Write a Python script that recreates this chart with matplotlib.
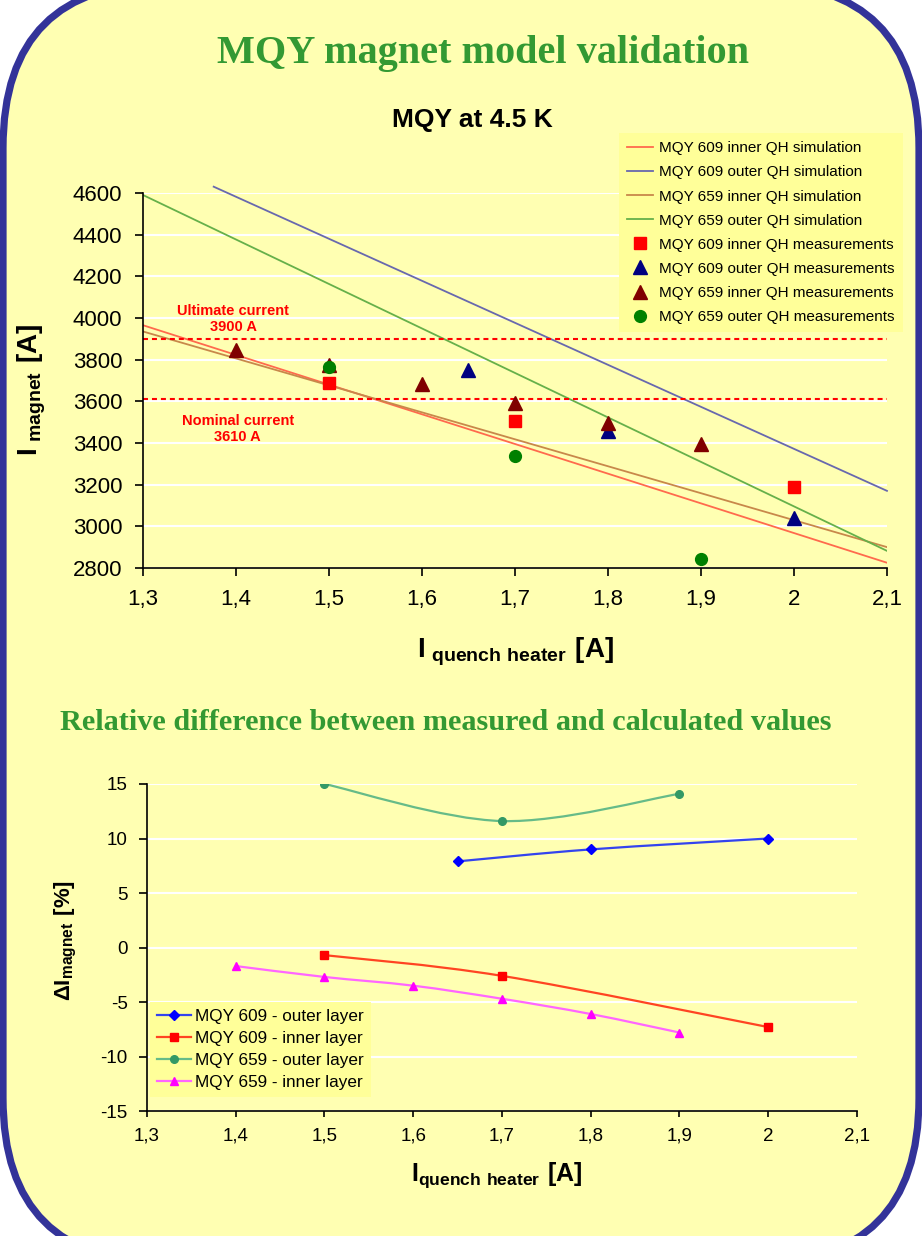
import matplotlib.pyplot as plt
import numpy as np
from matplotlib.patches import FancyBboxPatch, PathPatch
from matplotlib.path import Path
from matplotlib.lines import Line2D
from matplotlib.transforms import IdentityTransform

plt.rcParams['font.family'] = ['Liberation Sans', 'DejaVu Sans']
plt.rcParams['mathtext.fontset'] = 'custom'
plt.rcParams['mathtext.rm'] = 'Liberation Sans'
plt.rcParams['mathtext.bf'] = 'Liberation Sans:bold'
plt.rcParams['axes.unicode_minus'] = False

BG = '#FFFFB2'
LEG_BG = '#FFFF99'
GREEN_TITLE = '#339933'

# ---- top chart: simulations (straight lines) ----
sim_x = [1.3, 2.1]
sim_609_inner = [3965, 2825]
sim_609_outer_x = [1.376, 2.1]
sim_609_outer = [4630, 3170]
sim_659_inner = [3935, 2900]
sim_659_outer = [4590, 2882]

# ---- top chart: measurements ----
meas_609_inner_x = [1.5, 1.7, 2.0]
meas_609_inner = [3690, 3505, 3190]
meas_609_outer_x = [1.65, 1.8, 2.0]
meas_609_outer = [3750, 3458, 3040]
meas_659_inner_x = [1.4, 1.5, 1.6, 1.7, 1.8, 1.9]
meas_659_inner = [3845, 3775, 3683, 3592, 3495, 3395]
meas_659_outer_x = [1.5, 1.7, 1.9]
meas_659_outer = [3765, 3338, 2845]

ultimate_current = 3900
nominal_current = 3610

x_ticks = [1.3, 1.4, 1.5, 1.6, 1.7, 1.8, 1.9, 2.0, 2.1]
x_labels = ['1,3', '1,4', '1,5', '1,6', '1,7', '1,8', '1,9', '2', '2,1']
top_y_ticks = [2800, 3000, 3200, 3400, 3600, 3800, 4000, 4200, 4400, 4600]

# ---- bottom chart: relative difference [%] ----
d609_outer_x = [1.65, 1.8, 2.0]
d609_outer = [7.9, 9.0, 10.0]
d609_inner_x = [1.5, 1.7, 2.0]
d609_inner = [-0.7, -2.6, -7.3]
d659_outer_x = [1.5, 1.7, 1.9]
d659_outer = [15.0, 11.6, 14.1]
d659_inner_x = [1.4, 1.5, 1.6, 1.7, 1.8, 1.9]
d659_inner = [-1.7, -2.7, -3.5, -4.7, -6.1, -7.8]
bottom_y_ticks = [-15, -10, -5, 0, 5, 10, 15]


def smooth_path(x, y):
    # excel-like smoothed line (catmull-rom as cubic bezier)
    pts = np.column_stack([x, y]).astype(float)
    n = len(pts)
    verts = [pts[0]]
    codes = [Path.MOVETO]
    for i in range(n - 1):
        p0 = pts[max(i - 1, 0)]
        p1 = pts[i]
        p2 = pts[i + 1]
        p3 = pts[min(i + 2, n - 1)]
        verts += [p1 + (p2 - p0) / 6, p2 - (p3 - p1) / 6, p2]
        codes += [Path.CURVE4] * 3
    return Path(verts, codes)


def style_axes(ax, yticks, tick_size, pad):
    ax.set_facecolor(BG)
    for s in ['top', 'right']:
        ax.spines[s].set_visible(False)
    ax.spines['left'].set_linewidth(1.2)
    ax.spines['bottom'].set_linewidth(1.2)
    ax.set_xlim(1.3, 2.1)
    ax.set_xticks(x_ticks)
    ax.set_xticklabels(x_labels)
    ax.set_yticks(yticks)
    ax.set_ylim(yticks[0], yticks[-1])
    ax.yaxis.grid(True, color='white', linewidth=1.5)
    ax.set_axisbelow(True)
    ax.tick_params(axis='both', direction='out', length=6, width=1.2,
                   labelsize=tick_size, pad=pad)


fig = plt.figure(figsize=(9.22, 12.36), dpi=100, facecolor='white')

frame = FancyBboxPatch((3, -27), 916, 1280,
                       boxstyle='round,pad=0,rounding_size=165',
                       transform=IdentityTransform(), facecolor=BG,
                       edgecolor='#333399', linewidth=5.2, zorder=-10)
fig.add_artist(frame)

fig.text(0.524, 0.949, 'MQY magnet model validation', ha='center', va='baseline',
         fontsize=29, fontweight='bold', color=GREEN_TITLE, family='Liberation Serif')
fig.text(0.512, 0.8973, 'MQY at 4.5 K', ha='center', va='baseline',
         fontsize=19, fontweight='bold')

# ---------------- top chart ----------------
ax1 = fig.add_axes([0.1551, 0.5405, 0.8069, 0.3034])
style_axes(ax1, top_y_ticks, 16, 9)

ax1.plot(sim_x, sim_609_inner, color='#FF6A4D', lw=1.3, label='MQY 609 inner QH simulation')
ax1.plot(sim_609_outer_x, sim_609_outer, color='#6868AE', lw=1.3, clip_on=False,
         label='MQY 609 outer QH simulation')
ax1.plot(sim_x, sim_659_inner, color='#C8884A', lw=1.3, label='MQY 659 inner QH simulation')
ax1.plot(sim_x, sim_659_outer, color='#66B04A', lw=1.3, label='MQY 659 outer QH simulation')

ax1.axhline(ultimate_current, color='#FF0000', lw=1.5, linestyle=(0, (2.4, 1.9)))
ax1.axhline(nominal_current, color='#FF0000', lw=1.5, linestyle=(0, (2.4, 1.9)))

ax1.plot(meas_609_inner_x, meas_609_inner, 's', color='#FF0000', ms=8.5,
         label='MQY 609 inner QH measurements')
ax1.plot(meas_609_outer_x, meas_609_outer, '^', color='#000080', ms=9.5,
         label='MQY 609 outer QH measurements')
ax1.plot(meas_659_inner_x, meas_659_inner, '^', color='#800000', ms=9.5,
         label='MQY 659 inner QH measurements')
ax1.plot(meas_659_outer_x, meas_659_outer, 'o', color='#008000', ms=8.5,
         label='MQY 659 outer QH measurements')

ax1.text(1.397, 3995, 'Ultimate current\n3900 A', ha='center', va='center',
         color='#FF0000', fontsize=10.5, fontweight='bold', linespacing=1.2)
ax1.text(1.402, 3465, 'Nominal current\n3610 A', ha='center', va='center',
         color='#FF0000', fontsize=10.5, fontweight='bold', linespacing=1.2)

leg1 = ax1.legend(loc='upper right', bbox_to_anchor=(903 / 922, 1 - 133 / 1236),
                  bbox_transform=fig.transFigure, borderaxespad=0, fontsize=11,
                  numpoints=1, handlelength=1.7, handletextpad=0.4,
                  labelspacing=0.66, borderpad=0.55, fancybox=False,
                  frameon=True, framealpha=1)
leg1.get_frame().set_facecolor(LEG_BG)
leg1.get_frame().set_edgecolor('none')

fig.text(32 / 922, 1 - 390 / 1236, r'$\mathbf{I}_{\mathbf{\ magnet}}\ \mathbf{[A]}$',
         rotation=90, ha='center', va='center', fontsize=20)
fig.text(515 / 922, 1 - 652 / 1236, r'$\mathbf{I}_{\mathbf{\ quench\ heater}}\ \mathbf{[A]}$',
         ha='center', va='center', fontsize=20)

# ---------------- bottom chart ----------------
fig.text(446 / 922, 0.4094, 'Relative difference between measured and calculated values',
         ha='center', va='baseline', fontsize=21.8, fontweight='bold',
         color=GREEN_TITLE, family='Liberation Serif')

ax2 = fig.add_axes([0.1594, 0.1011, 0.7701, 0.2646])
style_axes(ax2, bottom_y_ticks, 13.5, 8)
ax2.tick_params(axis='x', length=4)

series = [
    (d609_outer_x, d609_outer, '#3344EE', '#0000FF', 'D', 5, 'MQY 609 - outer layer'),
    (d609_inner_x, d609_inner, '#FF4422', '#FF0000', 's', 5.5, 'MQY 609 - inner layer'),
    (d659_outer_x, d659_outer, '#66BB88', '#339966', 'o', 5.5, 'MQY 659 - outer layer'),
    (d659_inner_x, d659_inner, '#FF66FF', '#FF00FF', '^', 6, 'MQY 659 - inner layer'),
]
handles = []
for xs, ys, lc, mc, mk, ms, lab in series:
    ax2.add_patch(PathPatch(smooth_path(xs, ys), facecolor='none', edgecolor=lc, lw=1.6))
    ax2.plot(xs, ys, linestyle='none', marker=mk, color=mc, ms=ms)
    handles.append(Line2D([], [], color=lc, lw=1.6, marker=mk, mfc=mc, mec=mc,
                          ms=ms, label=lab))

leg2 = ax2.legend(handles=handles, loc='upper left',
                  bbox_to_anchor=(150 / 922, 1 - 1002 / 1236),
                  bbox_transform=fig.transFigure, borderaxespad=0, fontsize=12.3,
                  numpoints=1, handlelength=2.0, handletextpad=0.25,
                  labelspacing=0.42, borderpad=0.4, fancybox=False,
                  frameon=True, framealpha=1)
leg2.get_frame().set_facecolor(LEG_BG)
leg2.get_frame().set_edgecolor('none')

fig.text(66 / 922, 1 - 941 / 1236, r'$\mathbf{\Delta I}_{\mathbf{magnet}}\ \mathbf{[\%]}$',
         rotation=90, ha='center', va='center', fontsize=16)
fig.text(497 / 922, 1 - 1175 / 1236, r'$\mathbf{I}_{\mathbf{quench\ heater}}\ \mathbf{[A]}$',
         ha='center', va='center', fontsize=18)

fig.savefig('out.png', dpi=100, facecolor='white')
